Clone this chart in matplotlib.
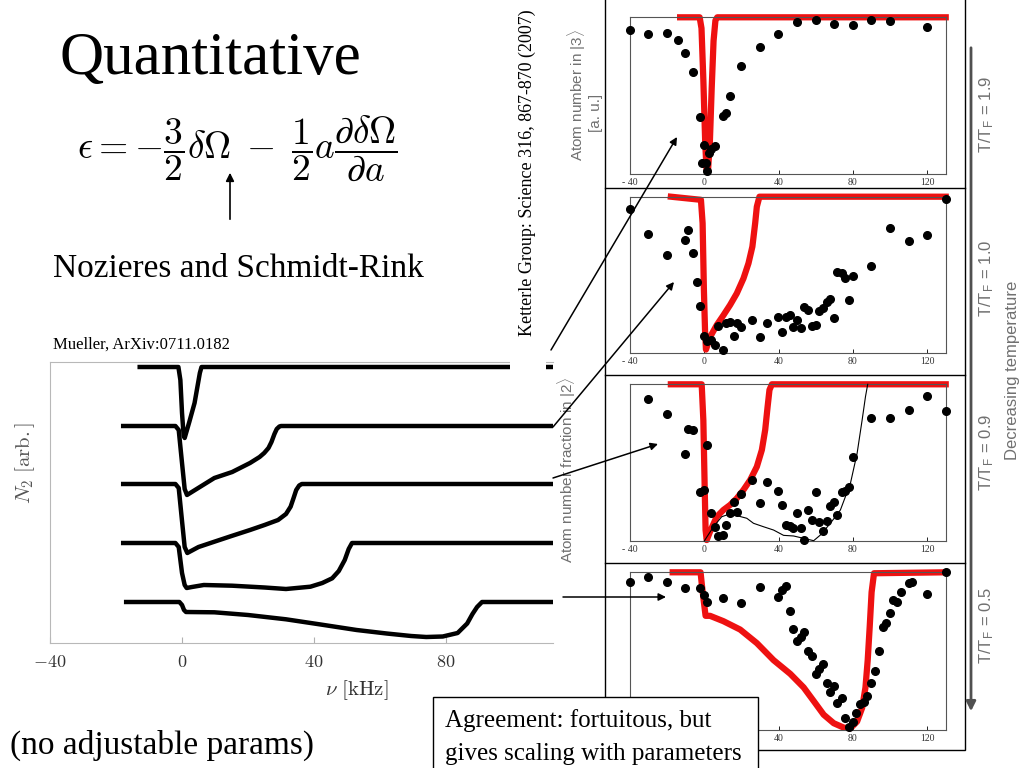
import matplotlib
matplotlib.use('Agg')
import matplotlib.pyplot as plt
from matplotlib.patches import Rectangle

plt.rcParams['mathtext.fontset'] = 'cm'
plt.rcParams['font.family'] = 'Liberation Serif'

# ---------------- lewy wykres (Mueller) : spadek N2 ponizej poziomu bazowego [arb.]
nu_a = [-13.5, -1.1, -0.5, 0.0, 0.5, 0.8, 2.2, 3.8, 5.4, 5.9, 115]
dip_a = [0, 0, 13, 46, 69, 71, 55, 36, 6, 0, 0]

nu_b = [-18.5, -2.0, -1.0, 0.0, 0.8, 1.5, 5.4, 9.8, 15.2, 20.6, 23.5, 24.9, 26.2, 27.1, 28.0, 28.7, 29.5, 30.0, 115]
dip_b = [0, 0, 4, 37, 63, 69, 61, 52, 46, 37, 31, 27, 22, 16, 8, 3, 0.5, 0, 0]

nu_c = [-18.5, -2.0, -1.0, 0.0, 0.8, 1.6, 5.0, 9.8, 15.0, 20.6, 25.0, 29.1, 31.5, 32.9, 33.8, 34.6, 35.5, 36.3, 115]
dip_c = [0, 0, 4, 37, 63, 69, 63, 57.7, 52, 46, 41, 36, 30, 22.7, 14, 6, 1.5, 0, 0]

nu_d = [-18.5, -2.0, -1.0, 0.0, 0.8, 1.4, 3.0, 6.6, 15.2, 25.0, 31.5, 38.9, 42.5, 45.5, 47.5, 49.3, 50.5, 51.5, 115]
dip_d = [0, 0, 4, 30, 42, 45, 44, 42, 42.7, 44.5, 46, 43.7, 40, 35.3, 28, 17, 6, 0, 0]

nu_e = [-17.6, -0.8, 0.0, 0.6, 1.2, 9.8, 20, 31.5, 42, 52.9, 62, 69.4, 74, 79, 83.5, 86.4, 88, 89.4, 90.9, 115]
dip_e = [0, 0, 3, 8, 10, 10.3, 13, 17.3, 22.5, 28, 31.5, 34, 35, 34.5, 31, 21.5, 12, 5, 0, 0]

curves = [(nu_a, dip_a), (nu_b, dip_b), (nu_c, dip_c), (nu_d, dip_d), (nu_e, dip_e)]
baselines = [276, 217, 159, 100, 41]
xticks_left = [-40, 0, 40, 80]

# ---------------- prawe panele (Ketterle) : punkty pomiarowe i teoria
# T/TF = 1.9
x1 = [-40.2, -30.3, -20.2, -14.2, -10.5, -6.1, -2.2, -0.4, -1.3, 0.7, 1.6, 2.5, 3.8, 5.6, 9.9, 11.9, 13.9,
      19.6, 29.9, 39.6, 49.9, 60, 69.9, 80.2, 89.9, 100, 120]
y1 = [0.917, 0.894, 0.9, 0.855, 0.774, 0.653, 0.362, 0.187, 0.068, 0.068, 0.021, 0.132, 0.162, 0.181, 0.37,
      0.387, 0.498, 0.687, 0.809, 0.894, 0.968, 0.985, 0.955, 0.951, 0.985, 0.979, 0.94]
th1_x = [-13, -2.5, -1.5, -0.5, 0.5, 1.2, 2.0, 3.0, 4.0, 5.0, 6.0, 7.0, 130]
th1_y = [1, 1, 0.93, 0.6, 0.2, 0.03, 0.02, 0.2, 0.55, 0.85, 0.98, 1, 1]

# T/TF = 1.0
x2 = [-40.2, -30.3, -20.2, -10.5, -8.5, -6.1, -4.1, -2.2, -0.4, 1.6, 3.8, 5.6, 7.4, 9.9, 11.9, 13.9, 15.9,
      17.8, 19.8, 25.9, 29.9, 33.9, 39.6, 42, 44, 45.9, 47.9, 49.9, 51.9, 53.9, 55.9, 57.8, 60, 62, 64, 65.9,
      67.9, 69.9, 71.7, 73.9, 76, 78, 80.2, 89.9, 100, 110.1, 120, 130.3]
y2 = [0.919, 0.763, 0.624, 0.722, 0.786, 0.637, 0.453, 0.301, 0.107, 0.077, 0.081, 0.049, 0.169, 0.017,
      0.188, 0.197, 0.107, 0.188, 0.165, 0.209, 0.1, 0.192, 0.226, 0.135, 0.226, 0.244, 0.165, 0.209, 0.158,
      0.295, 0.274, 0.173, 0.179, 0.265, 0.284, 0.325, 0.342, 0.22, 0.515, 0.509, 0.479, 0.335, 0.491, 0.553,
      0.797, 0.716, 0.756, 0.987]
th2_x = [-18, -1.8, -0.9, -0.2, 0.4, 0.9, 3.1, 6.7, 10.3, 13.9, 17.5, 21.1, 23.8, 25.9, 27.4, 28.3, 29.7, 130]
th2_y = [1, 0.98, 0.83, 0.4, 0.145, 0.02, 0.10, 0.177, 0.24, 0.306, 0.38, 0.476, 0.573, 0.68, 0.83, 0.936, 1, 1]

# T/TF = 0.9
x3 = [-30.5, -20.2, -10.5, -8.5, -6.1, -2.2, -0.2, 1.6, 3.8, 5.6, 7.4, 9.9, 11.9, 13.9, 15.9, 17.8, 19.8,
      25.9, 29.9, 33.9, 39.6, 42, 44, 45.9, 47.9, 49.9, 51.9, 53.9, 55.9, 57.8, 60, 62, 64, 65.9, 67.9, 69.9,
      71.7, 73.9, 76, 78, 80.2, 89.9, 100, 110.1, 120, 130.3]
y3 = [0.906, 0.813, 0.555, 0.717, 0.706, 0.311, 0.326, 0.613, 0.177, 0.089, 0.034, 0.04, 0.102, 0.177,
      0.247, 0.183, 0.298, 0.389, 0.24, 0.377, 0.319, 0.228, 0.102, 0.096, 0.081, 0.177, 0.085, 0.004, 0.2,
      0.136, 0.315, 0.123, 0.062, 0.13, 0.221, 0.249, 0.164, 0.313, 0.321, 0.343, 0.534, 0.785, 0.785, 0.836,
      0.923, 0.832]
th3_x = [-18, -1.4, -0.5, 0.2, 0.7, 1.3, 3.1, 6.7, 10.3, 13.9, 17.5, 21.1, 24.7, 28.3, 31.0, 32.8, 34.1,
         35.1, 36.4, 130]
th3_y = [1, 1, 0.77, 0.35, 0.07, 0.006, 0.06, 0.155, 0.198, 0.23, 0.272, 0.326, 0.389, 0.474, 0.581, 0.709,
         0.857, 0.964, 1, 1]
fit3_x = [0, 4.9, 9.4, 12.1, 17.5, 22.9, 26.5, 31.9, 37.3, 42.7, 48.1, 53.5, 58.9, 62.5, 67.9, 73.3, 78.7,
          82.3, 85.0, 86.8, 88.0]
fit3_y = [0, 0.09, 0.155, 0.166, 0.162, 0.145, 0.113, 0.091, 0.07, 0.036, 0.032, 0.017, 0.002, 0.038, 0.113,
          0.198, 0.368, 0.56, 0.772, 0.921, 1.0]

# T/TF = 0.5
x4 = [-40.2, -30.5, -20.2, -10.5, -2.2, -0.2, 1.6, 9.9, 19.8, 29.9, 39.6, 42, 44, 45.9, 47.9, 49.9, 51.9,
      53.9, 55.9, 58, 60, 62, 64, 65.9, 67.9, 69.9, 71.7, 73.9, 76, 78, 80, 81.8, 83.8, 85.8, 87.7, 89.7,
      91.9, 94.1, 96, 98, 99.8, 101.8, 103.8, 105.8, 110.1, 112.1, 120, 130.3]
y4 = [0.94, 0.97, 0.94, 0.9, 0.9, 0.853, 0.81, 0.836, 0.806, 0.905, 0.842, 0.886, 0.911, 0.752, 0.641,
      0.566, 0.589, 0.622, 0.501, 0.469, 0.356, 0.384, 0.419, 0.298, 0.242, 0.276, 0.171, 0.205, 0.078,
      0.017, 0.052, 0.108, 0.162, 0.175, 0.216, 0.298, 0.376, 0.499, 0.654, 0.68, 0.739, 0.823, 0.812,
      0.875, 0.935, 0.94, 0.86, 1.0]
th4_x = [-17, -2.0, -1.3, -0.2, 0.7, 3.1, 10.3, 19.3, 28.3, 37.3, 46.3, 53.5, 58.9, 64.3, 69.7, 75.1, 78.7,
         82.3, 85.0, 86.8, 88.0, 89.1, 90.1, 91.4, 130]
th4_y = [1, 1, 0.92, 0.81, 0.724, 0.724, 0.69, 0.637, 0.551, 0.443, 0.356, 0.27, 0.184, 0.097, 0.043,
         0.015, 0.011, 0.054, 0.14, 0.27, 0.443, 0.659, 0.874, 0.994, 1]

panels = [(x1, y1, th1_x, th1_y), (x2, y2, th2_x, th2_y), (x3, y3, th3_x, th3_y), (x4, y4, th4_x, th4_y)]
temps = ['1.9', '1.0', '0.9', '0.5']
xticks_right = [-40, 0, 40, 80, 120]
xlabels_right = ['- 40', '0', '40', '80', '120']

W, H = 1024, 768
fig = plt.figure(figsize=(W / 100, H / 100), dpi=100)


def box(left, top, right, bottom):
    return [left / W, (H - bottom) / H, (right - left) / W, (bottom - top) / H]


# lewy wykres
ax = fig.add_axes(box(50, 362, 553, 643))
for (nu, dip), base in zip(curves, baselines):
    ax.plot(nu, [base - d for d in dip], color='black', lw=3.2, solid_capstyle='butt',
            solid_joinstyle='round')
ax.set_xlim(-40, 112.4)
ax.set_ylim(0, 281)
ax.set_xticks(xticks_left)
ax.set_xticklabels(['$%d$' % t for t in xticks_left])
ax.set_yticks([])
ax.tick_params(axis='x', direction='in', length=4, color='#b0b0b0', labelsize=13,
               labelcolor='#333333', pad=8)
for s in ['left', 'bottom', 'top']:
    ax.spines[s].set_color('#b8b8b8')
ax.spines['right'].set_visible(False)

# prawe panele
tops = [17.3, 196.7, 384.3, 572.3]
bottoms = [174, 352.7, 541, 730]
for i, (xs, ys, tx, ty) in enumerate(panels):
    a = fig.add_axes(box(630, tops[i], 945.7, bottoms[i]))
    a.plot(tx, ty, color='#ee1111', lw=4.5, clip_on=False, zorder=2)
    if i == 2:
        a.plot(fit3_x, fit3_y, color='black', lw=0.8, zorder=3, clip_on=False)
    a.plot(xs, ys, 'o', color='black', ms=5.5, clip_on=False, zorder=4)
    a.set_xlim(-40, 130)
    a.set_ylim(0, 1)
    a.set_xticks(xticks_right)
    a.set_xticklabels(xlabels_right)
    a.set_yticks([])
    a.tick_params(axis='x', direction='in', length=3, width=0.6, labelsize=7, pad=3,
                  labelcolor='#333333')
    for s in a.spines.values():
        s.set_color('#555555')
        s.set_linewidth(0.8)

# nakladka: teksty, ramki, strzalki
ov = fig.add_axes([0, 0, 1, 1], zorder=10)
ov.set_xlim(0, W)
ov.set_ylim(H, 0)
ov.axis('off')
ov.patch.set_alpha(0)

ov.text(60, 74, 'Quantitative', fontsize=44, va='baseline')
ov.text(77, 148, r'$\epsilon = -\dfrac{3}{2}\delta\Omega\;-\;\dfrac{1}{2}a\dfrac{\partial\delta\Omega}{\partial a}$',
        fontsize=27, va='center')
ov.annotate('', xy=(230, 170), xytext=(230, 222),
            arrowprops=dict(arrowstyle='-|>', color='black', lw=1.2, mutation_scale=12))
ov.text(53, 277, 'Nozieres and Schmidt-Rink', fontsize=24, va='baseline')
ov.text(53, 345, 'Mueller, ArXiv:0711.0182', fontsize=12, va='center')
ov.text(357, 690, r'$\nu\ \mathrm{[kHz]}$', fontsize=15, color='#333333', ha='center', va='center')
ov.text(25, 463, r'$N_2\ \mathrm{[arb.]}$', fontsize=15, color='#555555', rotation=90,
        ha='center', va='center')
ov.text(10, 745, '(no adjustable params)', fontsize=24, va='center')

# tekst Ketterle z bialym tlem
ov.add_patch(Rectangle((510, 0), 36, 372, facecolor='white', edgecolor='none'))
ov.text(527, 173, 'Ketterle Group: Science 316, 867-870 (2007)', fontsize=13, rotation=90,
        ha='center', va='center')

# ramka prawych paneli
ov.add_patch(Rectangle((605, -2), 360, 752, facecolor='none', edgecolor='black', lw=1))
for yy in [188, 375, 563]:
    ov.plot([605, 965], [yy, yy], color='black', lw=1)

gray = '#707070'
ov.text(577, 95, r'Atom number in |3$\rangle$', fontsize=11, rotation=90, ha='center', va='center',
        color=gray, family='Liberation Sans')
ov.text(596, 113, '[a. u.]', fontsize=11, rotation=90, ha='center', va='center',
        color=gray, family='Liberation Sans')
ov.text(567, 470, r'Atom number fraction in |2$\rangle$', fontsize=11, rotation=90, ha='center',
        va='center', color=gray, family='Liberation Sans')
for t, yc in zip(temps, [114, 278, 452, 625]):
    ov.text(987, yc, r'T/T$_\mathregular{F}$ = ' + t, fontsize=12, rotation=90, ha='center',
            va='center', color=gray, family='Liberation Sans')
ov.text(1012, 370, 'Decreasing temperature', fontsize=12, rotation=90, ha='center', va='center',
        color=gray, family='Liberation Sans')
ov.annotate('', xy=(971, 714), xytext=(971, 45),
            arrowprops=dict(arrowstyle='-|>', color='#505050', lw=2, mutation_scale=14))

# strzalki od krzywych do paneli
arrows = [((551, 350), (677, 137)), ((553, 427), (674, 282)), ((553, 478), (658, 444)), ((563, 597), (666, 597))]
for (x0, y0), (x1_, y1_) in arrows:
    ov.annotate('', xy=(x1_, y1_), xytext=(x0, y0),
                arrowprops=dict(arrowstyle='-|>', color='black', lw=1.1, mutation_scale=11,
                                shrinkA=0, shrinkB=0))

# ramka z komentarzem
ov.add_patch(Rectangle((433, 697), 325, 80, facecolor='white', edgecolor='black', lw=1))
ov.text(445, 727, 'Agreement: fortuitous, but', fontsize=18, va='baseline')
ov.text(445, 760, 'gives scaling with parameters', fontsize=18, va='baseline')

fig.savefig('out.png', dpi=100)
